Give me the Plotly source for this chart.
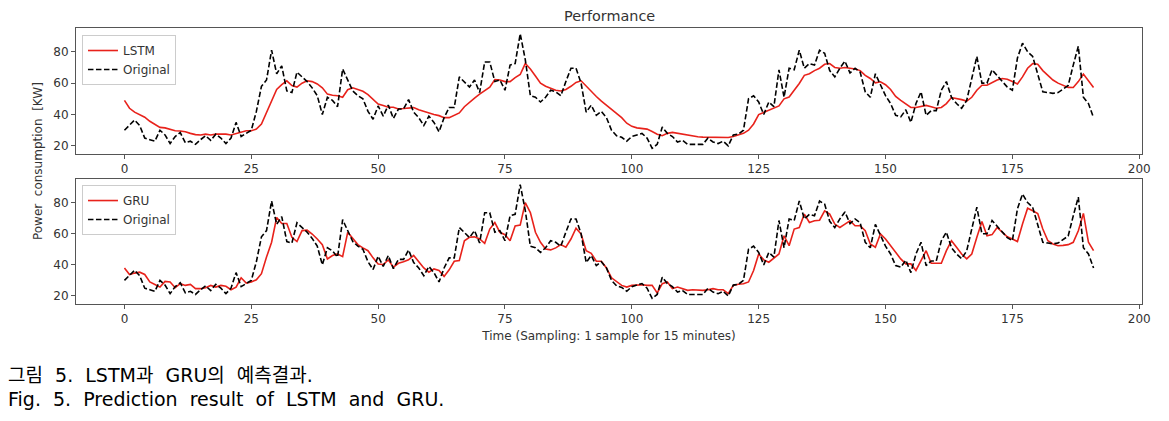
import plotly.graph_objects as go

t = list(range(192))

original = [
    30, 33, 36.5, 33, 25, 24, 23, 30, 27, 21.5,
    26, 28.5, 22, 23, 21, 24, 26.5, 23.5, 27.5, 25,
    21.5, 25, 35, 26, 28, 30, 42, 58, 62, 81,
    66, 71, 55, 54, 67, 64, 61, 57, 52, 40,
    51, 49, 45, 69, 62, 55, 52, 50, 42, 37,
    45.5, 39, 46, 37.5, 43.5, 43.5, 49.5, 41.5, 38, 33,
    39, 35, 29, 38, 44.5, 44.5, 64, 61, 57.5, 62,
    54, 73.5, 73.5, 61, 62, 55.5, 71.5, 72.5, 91.5, 75,
    52, 51, 48, 51, 55.5, 54.5, 52, 61, 69.5, 69.5,
    60, 41.5, 46, 39.5, 42, 38, 30, 26.5, 25.5, 23,
    26, 27, 28, 25, 18.5, 21, 32, 28, 26, 22.5,
    23.5, 21, 21, 21, 21, 25, 22.5, 21.5, 23, 20,
    27, 27.5, 30, 50, 52, 48, 40, 48, 45, 68.5,
    51, 69.5, 68.5, 81, 69.5, 72.5, 71.5, 81, 79, 68,
    64, 69.5, 74, 66.5, 69.5, 67, 54.5, 51, 66, 59,
    52, 47, 39.5, 38.5, 43, 35, 47, 54.5, 39.5, 42.5,
    42.5, 55.5, 61, 51, 47, 44, 49, 63, 77, 60,
    60, 68.5, 65, 61, 57.5, 55.5, 76, 85.5, 80, 77,
    65, 54.5, 54, 53.5, 54, 56, 58.5, 71.5, 83.5, 51,
    47, 38,
]

lstm = [
    49, 44, 41.5, 40, 38.3, 35.7, 33.5, 31.8, 31.5, 30.7,
    29.7, 29.5, 29, 28, 27.2, 27, 27.5, 27, 27.5, 27.5,
    27.5, 27, 28, 29, 29.7, 29.7, 30.7, 34, 41, 49,
    56, 59, 61.5, 58.5, 57.5, 60, 61.5, 61, 59.5, 57,
    53, 52.3, 52, 51, 55.8, 57, 56, 54.8, 52.7, 49.5,
    46.7, 45.7, 44.6, 44.6, 43.6, 43.8, 44.3, 44.4, 43, 42,
    40.5, 40, 39.3, 38, 38, 39.5, 41, 45, 48, 50.5,
    53, 55.5, 57.5, 62.3, 62, 61, 61, 63.5, 65.5, 72.5,
    69, 64.5, 60, 58, 56.6, 55.5, 55, 56, 58, 60.5,
    61.5, 58, 54.5, 51.5, 48.5, 46, 43.5, 41, 38, 34.5,
    32.5, 31.5, 31, 30.7, 29.2, 27.5, 26.5, 28, 28.6, 28,
    27.5, 27, 26.3, 25.8, 25.6, 25.5, 25.4, 25.4, 25.4, 25.4,
    26, 26.8, 28, 30, 34, 40, 41.5, 42.6, 44, 45.5,
    50, 51.2, 55.5, 59.8, 65, 66, 68, 69.5, 72, 72.5,
    70, 69.5, 70, 69.5, 69, 68, 65, 63, 60.2, 60.9,
    59, 56, 51.5, 49, 47, 44.5, 44.5, 45.3, 45.8, 45,
    44, 44.5, 47, 50.8, 50.3, 49.5, 48.6, 51, 55.5, 58.7,
    58.7, 60.5, 62, 63, 62.5, 61, 59.5, 64, 69.5, 72.5,
    72, 68, 65, 62, 60, 58.5, 57.3, 57.2, 61, 65.8,
    61.5, 57.2,
]

gru = [
    38, 33.8, 34.7, 35.3, 33.8, 29, 27.4, 25.7, 29.4, 29,
    25.3, 27.9, 26.8, 27.4, 24.7, 24.7, 25.3, 26.8, 25.7, 26.8,
    26.2, 24, 25.7, 31.7, 28.3, 29, 30.4, 34.3, 45, 54.5,
    70.4, 66.6, 66.6, 57.7, 55, 62, 62.3, 59.8, 56.6, 53,
    43.8, 46, 47, 45.3, 60.9, 56.6, 53, 50.9, 49.1, 44.5,
    40.5, 40.2, 43.2, 38.5, 41, 42, 43.2, 46, 41.7, 38,
    35.3, 37.4, 36.4, 32.6, 36.8, 42.3, 42.8, 55.5, 57.7, 58,
    56.6, 53.8, 63, 67.2, 60.9, 59.4, 55.5, 65, 65.5, 80,
    73.6, 60.9, 54.5, 50.2, 49.6, 50.9, 53, 51.3, 56.6, 63.6,
    59.8, 49.1, 47.4, 42.3, 42.3, 38, 31.7, 29, 26.8, 25.7,
    26.8, 27, 27.2, 26.8, 26.8, 22, 27.9, 29, 24.7, 25.7,
    24.7, 23.6, 24, 23.8, 23.6, 24, 24.7, 24, 24, 21.5,
    26.8, 27.5, 27.9, 29, 36.4, 47, 43.2, 41.7, 44.5, 47,
    58.7, 52.3, 63, 64, 72.6, 67.2, 68.3, 68.7, 74.7, 72.6,
    66.2, 64, 66.2, 68.3, 65.1, 65.1, 61.9, 53.4, 51.3, 59.8,
    56.6, 52.3, 48, 43.8, 40.6, 40.6, 36.4, 42.8, 49.1, 41,
    41, 41, 49.1, 55.5, 51.3, 47, 43.8, 47, 57.7, 67.9,
    58.7, 59.4, 64, 60.9, 58, 56.6, 55, 66.2, 76.4, 74.7,
    73, 63, 55.5, 53.4, 52.3, 52.5, 53, 54.5, 61.9, 73,
    54.5, 49.1,
]

x_ticks = [0, 25, 50, 75, 100, 125, 150, 175, 200]
y_ticks = [20, 40, 60, 80]

title_text = "Performance"
y_label = "Power  consumption  [KW]"
x_label = "Time (Sampling: 1 sample for 15 minutes)"
NB = "\u00a0"
caption_ko = f"그림{NB}{NB}5.{NB}{NB}LSTM과{NB}{NB}GRU의{NB}{NB}예측결과."
caption_en = f"Fig.{NB}{NB}5.{NB}{NB}Prediction{NB}{NB}result{NB}{NB}of{NB}{NB}LSTM{NB}{NB}and{NB}{NB}GRU."

FONT = "DejaVu Sans"
CAP_FONT = "DejaVu Sans, Noto Sans CJK KR"
TXT = "#333333"
RED = "#e8221b"
DASH = "5.5px,2.5px"

def mpl_range(*series):
    lo = min(min(s) for s in series)
    hi = max(max(s) for s in series)
    pad = (hi - lo) * 0.05
    return [lo - pad, hi + pad]

xr = [min(t) - (max(t) - min(t)) * 0.05, max(t) + (max(t) - min(t)) * 0.05]
yr_top = mpl_range(lstm, original)
yr_bot = mpl_range(gru, original)

fig = go.Figure()
fig.add_trace(go.Scatter(x=t, y=lstm, mode="lines", name="LSTM",
                         line=dict(color=RED, width=1.6), xaxis="x", yaxis="y", legend="legend"))
fig.add_trace(go.Scatter(x=t, y=original, mode="lines", name="Original",
                         line=dict(color="black", width=1.6, dash=DASH), xaxis="x", yaxis="y", legend="legend"))
fig.add_trace(go.Scatter(x=t, y=gru, mode="lines", name="GRU",
                         line=dict(color=RED, width=1.6), xaxis="x2", yaxis="y2", legend="legend2"))
fig.add_trace(go.Scatter(x=t, y=original, mode="lines", name="Original",
                         line=dict(color="black", width=1.6, dash=DASH), xaxis="x2", yaxis="y2", legend="legend2"))

ax_common = dict(showline=True, linecolor="#555555", linewidth=1, mirror=True,
                 ticks="outside", ticklen=4, tickcolor="#555555", tickwidth=1,
                 showgrid=False, zeroline=False,
                 tickfont=dict(family=FONT, size=12, color=TXT))

top_dom = [1 - 126 / 276, 1]
bot_dom = [0, 125 / 276]

legend_common = dict(font=dict(family=FONT, size=12, color=TXT),
                     bgcolor="rgba(255,255,255,0.85)", bordercolor="#cccccc", borderwidth=1,
                     xanchor="left", yanchor="top", tracegroupgap=0, itemwidth=30)

fig.update_layout(
    width=1169, height=421,
    margin=dict(l=76, r=27, t=28, b=117),
    paper_bgcolor="white", plot_bgcolor="white",
    showlegend=True,
    xaxis=dict(domain=[0, 1], anchor="y", range=xr, tickvals=x_ticks, **ax_common),
    yaxis=dict(domain=top_dom, anchor="x", range=yr_top, tickvals=y_ticks, **ax_common),
    xaxis2=dict(domain=[0, 1], anchor="y2", range=xr, tickvals=x_ticks,
                title=dict(text=x_label, font=dict(family=FONT, size=12, color=TXT), standoff=6),
                **ax_common),
    yaxis2=dict(domain=bot_dom, anchor="x2", range=yr_bot, tickvals=y_ticks, **ax_common),
    legend=dict(x=0.0056, y=0.9746, **legend_common),
    legend2=dict(x=0.0056, y=0.431, **legend_common),
    annotations=[
        dict(text=title_text, x=0.5, y=1, xref="paper", yref="paper", yshift=12,
             showarrow=False, xanchor="center", yanchor="middle",
             font=dict(family=FONT, size=14.4, color=TXT)),
        dict(text=y_label, x=-0.0356, y=0.518, xref="paper", yref="paper", textangle=-90,
             showarrow=False, xanchor="center", yanchor="middle",
             font=dict(family=FONT, size=12, color=TXT)),
        dict(text=caption_ko, x=-0.066, y=-0.259, xref="paper", yref="paper",
             showarrow=False, xanchor="left", yanchor="middle",
             font=dict(family=CAP_FONT, size=19, color="black")),
        dict(text=caption_en, x=-0.066, y=-0.343, xref="paper", yref="paper",
             showarrow=False, xanchor="left", yanchor="middle",
             font=dict(family=CAP_FONT, size=19, color="black")),
    ],
)

fig.write_html("out.html", config={"displayModeBar": False},
               post_script="document.body.style.margin='0';")
